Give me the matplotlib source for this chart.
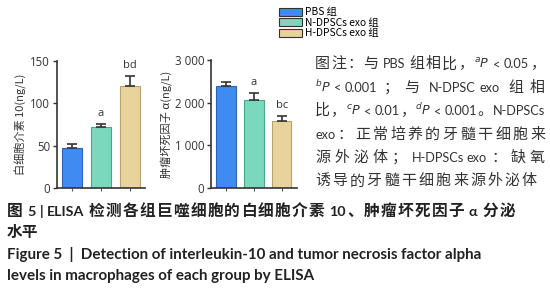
import re
import matplotlib
matplotlib.use('Agg')
import matplotlib.pyplot as plt
import numpy as np
from matplotlib.patches import Patch

plt.rcParams['font.family'] = ['Noto Sans CJK SC', 'DejaVu Sans']
plt.rcParams['mathtext.fontset'] = 'dejavusans'

# 数据
groups = ['PBS 组', 'N-DPSCs exo 组', 'H-DPSCs exo 组']
il10 = [47, 72, 120]
il10_err = [5, 4, 12]
il10_sig = ['', 'a', 'bd']
tnf = [2390, 2060, 1560]
tnf_err = [90, 170, 120]
tnf_sig = ['', 'a', 'bc']

face = ['#3f8bf2', '#7ad8bd', '#e8d39c']
edge = ['#2a63b8', '#45a88c', '#b9a36c']
txt = '#333333'

W, H = 550, 300
fig = plt.figure(figsize=(5.5, 3), dpi=100)
renderer = fig.canvas.get_renderer()
CJK = re.compile(r'[\u3000-\u9fff\uff00-\uffef]')


def draw(ax, vals, errs, sig, ymax, ticks, ticklabels, ylabel):
    x = np.arange(len(vals))
    ax.bar(x, vals, width=0.7, color=face, edgecolor=edge, linewidth=0.8, zorder=2)
    ax.errorbar(x, vals, yerr=[np.zeros(len(vals)), errs], fmt='none',
                ecolor='#333333', elinewidth=1.2, capsize=3.5, capthick=1.2, zorder=3)
    for xi, v, e, s in zip(x, vals, errs, sig):
        if s:
            ax.text(xi, v + e + ymax * 0.04, s, ha='center', va='bottom',
                    fontsize=8, color=txt, family='Open Sans')
    ax.set_xlim(-0.54, 2.54)
    ax.set_ylim(0, ymax)
    ax.set_yticks(ticks)
    ax.set_yticklabels(ticklabels, fontsize=8.3, color=txt, family='Open Sans')
    ax.set_xticks(x)
    ax.set_xticklabels([])
    ax.tick_params(axis='x', length=2.5, width=0.8, color='#555555')
    ax.tick_params(axis='y', length=3, width=1.0, color='#333333', pad=2)
    for s in ['top', 'right']:
        ax.spines[s].set_visible(False)
    for s in ['left', 'bottom']:
        ax.spines[s].set_color('#333333')
        ax.spines[s].set_linewidth(1.2)
    ax.set_ylabel(ylabel, fontsize=8, color=txt, labelpad=2)


# 两端对齐地写一行字，中文和西文用不同字号
def spread(x0, x1, y, s, size_cn, size_en, **kw):
    toks, gaps = [], []
    sp = False
    for m in re.finditer(r'\s+|[^\s\u3000-\u9fff\uff00-\uffef]+|.', s):
        t = m.group()
        if t.isspace():
            sp = True
            continue
        toks.append(t)
        gaps.append(sp)
        sp = False
    em = size_cn * 100 / 72
    yb = 1 - (y + 0.36 * em) / H
    texts, w = [], []
    for t in toks:
        if CJK.match(t):
            tx = fig.text(0, yb, t, va='baseline', ha='left', fontsize=size_cn, **kw)
            w.append(em)
        else:
            tx = fig.text(0, yb, t, va='baseline', ha='left', fontsize=size_en,
                          family=['Lato', 'DejaVu Sans'], **kw)
            w.append(tx.get_window_extent(renderer).width)
        texts.append(tx)
    spw = size_en * 100 / 72 * 0.25
    weight = [0] + [1 if (CJK.match(toks[i]) or CJK.match(toks[i - 1])) else 0
                    for i in range(1, len(toks))]
    if sum(weight) == 0:
        weight = [0] + [1] * (len(toks) - 1)
    nat = sum(w) + spw * sum(gaps[1:])
    extra = (x1 - x0 - nat) / sum(weight)
    x = x0
    for i, t in enumerate(texts):
        if i > 0:
            x += extra * weight[i] + (spw if gaps[i] else 0)
        t.set_x(x / W)
        x += w[i]


ax1 = fig.add_axes([0.1036, 0.373, 0.16, 0.424])
draw(ax1, il10, il10_err, il10_sig, 150, [0, 50, 100, 150],
     ['0', '50', '100', '150'], '白细胞介素 10(ng/L)')

ax2 = fig.add_axes([0.3836, 0.373, 0.156, 0.427])
draw(ax2, tnf, tnf_err, tnf_sig, 3000, [0, 1000, 2000, 3000],
     ['0', '1 000', '2 000', '3 000'], '肿瘤坏死因子 α(ng/L)')

# 图例
handles = [Patch(facecolor=face[i], edgecolor='#333333', linewidth=0.8) for i in range(3)]
fig.legend(handles, groups, loc='upper left', bbox_to_anchor=(0.495, 1.0),
           frameon=False, fontsize=7.4, handlelength=2.2, handleheight=0.8,
           handletextpad=0.3, labelspacing=0.05, borderpad=0.2)

# 图注
note = ['图注：与 PBS 组相比，$^{a}\\it{P}$ < 0.05，',
        '$^{b}\\it{P}$ < 0.001；与 N-DPSC exo 组相',
        '比，$^{c}\\it{P}$ < 0.01，$^{d}\\it{P}$ < 0.001。N-DPSCs',
        'exo：正常培养的牙髓干细胞来',
        '源外泌体；H-DPSCs exo：缺氧',
        '诱导的牙髓干细胞来源外泌体']
note_right = [545, 545, 545, 545, 545, 537]
for i, line in enumerate(note):
    spread(315, note_right[i], 63 + 23.4 * i, line, 10.8, 9.2, color=txt)

# 图题
spread(7, 515, 210, '图 5 | ELISA 检测各组巨噬细胞的白细胞介素 10、肿瘤坏死因子 α 分泌',
       11.3, 10.3, color='#222222', fontweight='bold')
fig.text(7 / W, 1 - (231 + 0.36 * 11.3 * 100 / 72) / H, '水平', fontsize=11.3,
         color='#222222', fontweight='bold', va='baseline', ha='left')
caption_en = [('Figure 5  |  Detection of interleukin-10 and tumor necrosis factor alpha', 254),
              ('levels in macrophages of each group by ELISA', 276)]
for s, y in caption_en:
    fig.text(7 / W, 1 - y / H, s, fontsize=10.9, color='#222222',
             family=['Lato', 'DejaVu Sans'], fontweight='bold',
             va='center', ha='left')

fig.savefig('out.png', dpi=100)
